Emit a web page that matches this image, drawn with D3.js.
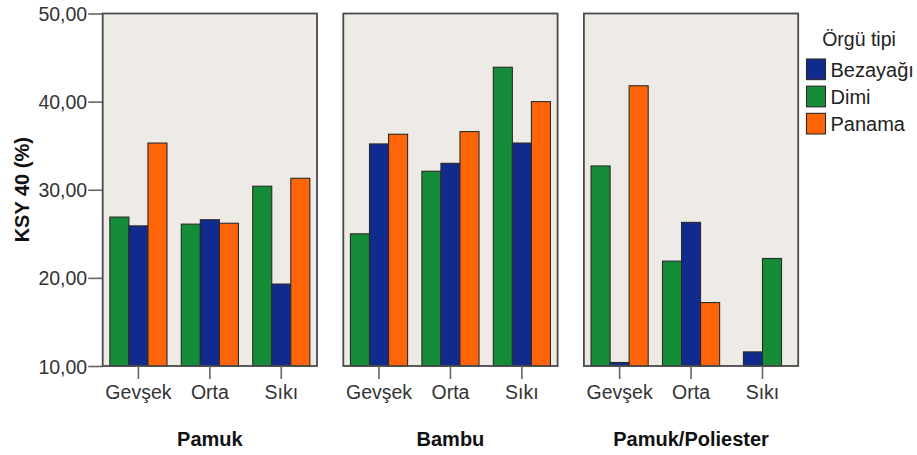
<!DOCTYPE html>
<html>
<head>
<meta charset="utf-8">
<script src="https://cdn.jsdelivr.net/npm/d3@7"></script>
<style>
  html, body { margin: 0; padding: 0; background: #ffffff; }
  svg { display: block; font-family: Arial, "Liberation Sans", sans-serif; }
</style>
</head>
<body>
<svg id="chart" width="917" height="455"></svg>
<script>
// Kumaş türleri (paneller) ve sıklık grupları
const kumaslar = ["Pamuk", "Bambu", "Pamuk/Poliester"];
const sikliklar = ["Gevşek", "Orta", "Sıkı"];
const orguTipleri = ["Bezayağı", "Dimi", "Panama"];

// KSY 40 (%) değerleri: [kumaş][sıklık]; null = veri yok
const bezayagi = [
  [25.9, 26.6, 19.3],
  [35.2, 33.0, 35.3],
  [10.4, 26.3, 11.6]
];
const dimi = [
  [26.9, 26.1, 30.4],
  [25.0, 32.1, 43.9],
  [32.7, 21.9, 22.2]
];
const panama = [
  [35.3, 26.2, 31.3],
  [36.3, 36.6, 40.0],
  [41.8, 17.2, null]
];

// Küme içindeki çubuk sırası
const cubukSirasi = [
  [["Dimi", "Bezayağı", "Panama"], ["Dimi", "Bezayağı", "Panama"], ["Dimi", "Bezayağı", "Panama"]],
  [["Dimi", "Bezayağı", "Panama"], ["Dimi", "Bezayağı", "Panama"], ["Dimi", "Bezayağı", "Panama"]],
  [["Dimi", "Bezayağı", "Panama"], ["Dimi", "Bezayağı", "Panama"], ["Bezayağı", "Dimi"]]
];

const yTicks = [10, 20, 30, 40, 50];

const seriler = { "Bezayağı": bezayagi, "Dimi": dimi, "Panama": panama };
const renk = d3.scaleOrdinal()
  .domain(orguTipleri)
  .range(["#112a8e", "#158d38", "#ff6508"]);

const svg = d3.select("#chart");

const panelTop = 13.5, panelBottom = 366;
const panelW = 214.3, panelGap = 26.3, firstLeft = 102.7;

const y = d3.scaleLinear().domain([10, 50]).range([panelBottom, panelTop]);
const panelX = d3.scaleBand()
  .domain(kumaslar)
  .range([firstLeft, firstLeft + 3 * panelW + 2 * panelGap])
  .paddingInner(panelGap / (panelW + panelGap));

const fmt = v => d3.format(".2f")(v).replace(".", ",");

// Y ekseni
const yAxis = svg.append("g")
  .attr("transform", `translate(${firstLeft},0)`)
  .call(d3.axisLeft(y).tickValues(yTicks).tickFormat(fmt).tickSize(14.5).tickPadding(1));
yAxis.select(".domain").remove();
yAxis.selectAll(".tick line").attr("stroke", "#666").attr("stroke-width", 1.6);
yAxis.selectAll(".tick text")
  .attr("fill", "#333").style("font-size", "19.5px").attr("dy", "0.36em");

svg.append("text")
  .attr("transform", `translate(29,${(panelTop + panelBottom) / 2}) rotate(-90)`)
  .attr("text-anchor", "middle")
  .style("font-size", "20px").style("font-weight", "bold").attr("fill", "#111")
  .text("KSY 40 (%)");

kumaslar.forEach((kumas, ki) => {
  const x0 = panelX(kumas);
  const w = panelX.bandwidth();
  const g = svg.append("g");

  g.append("rect")
    .attr("x", x0).attr("y", panelTop)
    .attr("width", w).attr("height", panelBottom - panelTop)
    .attr("fill", "#eeebe7");

  const grup = d3.scaleBand().domain(sikliklar).range([x0, x0 + w])
    .paddingInner(0.2).paddingOuter(0.1);
  const barW = grup.bandwidth() / 3;

  sikliklar.forEach((s, si) => {
    const mevcut = cubukSirasi[ki][si].filter(t => seriler[t][ki][si] != null);
    const merkez = grup(s) + grup.bandwidth() / 2;
    const ic = d3.scaleBand().domain(mevcut)
      .range([merkez - barW * mevcut.length / 2, merkez + barW * mevcut.length / 2]);
    g.selectAll(null)
      .data(mevcut.map(t => ({ tip: t, deger: seriler[t][ki][si] })))
      .join("rect")
      .attr("x", d => ic(d.tip))
      .attr("y", d => y(d.deger))
      .attr("width", ic.bandwidth())
      .attr("height", d => y(10) - y(d.deger))
      .attr("fill", d => renk(d.tip))
      .attr("stroke", "#2a2a2a")
      .attr("stroke-width", 1.1);
  });

  g.append("rect")
    .attr("x", x0).attr("y", panelTop)
    .attr("width", w).attr("height", panelBottom - panelTop)
    .attr("fill", "none").attr("stroke", "#4a4a4a").attr("stroke-width", 1.8);

  const xAxis = g.append("g")
    .attr("transform", `translate(0,${panelBottom})`)
    .call(d3.axisBottom(grup).tickSize(13).tickPadding(6));
  xAxis.select(".domain").remove();
  xAxis.selectAll(".tick line").attr("stroke", "#666").attr("stroke-width", 1.6);
  xAxis.selectAll(".tick text").attr("fill", "#333").style("font-size", "19.5px");

  g.append("text")
    .attr("x", x0 + w / 2).attr("y", 446)
    .attr("text-anchor", "middle")
    .style("font-size", "20px").style("font-weight", "bold").attr("fill", "#111")
    .text(kumas);
});

// Açıklama
const legend = svg.append("g");
legend.append("text")
  .attr("x", 859).attr("y", 46)
  .attr("text-anchor", "middle")
  .style("font-size", "19.5px").attr("fill", "#222")
  .text("Örgü tipi");
const ly = d3.scaleBand().domain(orguTipleri).range([59, 134]).paddingInner(0.24);
orguTipleri.forEach(t => {
  legend.append("rect")
    .attr("x", 806.5).attr("y", ly(t))
    .attr("width", 19).attr("height", ly.bandwidth())
    .attr("fill", renk(t)).attr("stroke", "#2a2a2a").attr("stroke-width", 1.1);
  legend.append("text")
    .attr("x", 830.5).attr("y", ly(t) + ly.bandwidth() / 2)
    .attr("dy", "0.36em")
    .style("font-size", "20px").attr("fill", "#222")
    .text(t);
});
</script>
</body>
</html>
